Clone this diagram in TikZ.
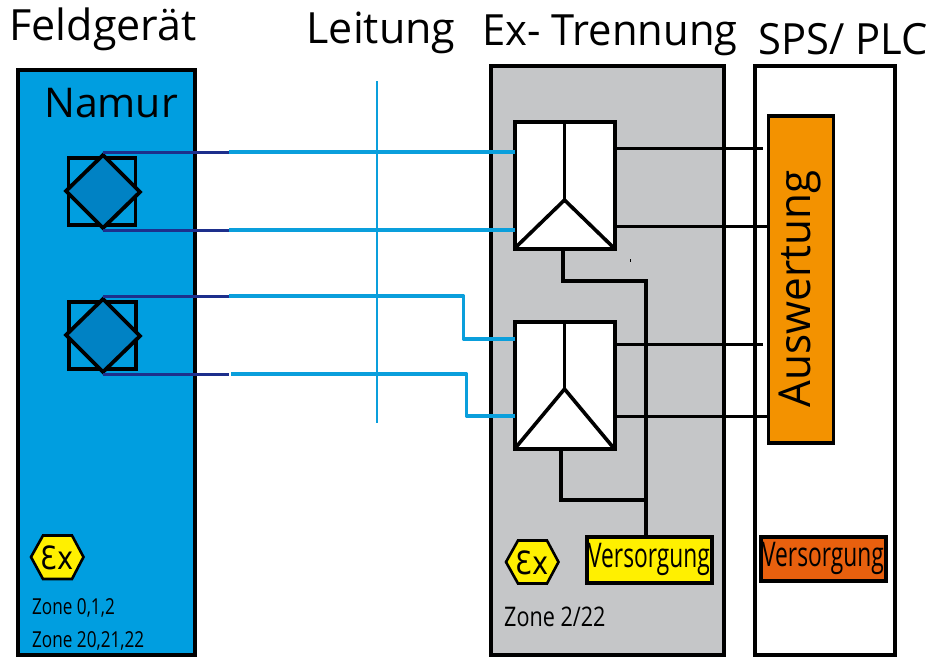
\documentclass[tikz,border=0pt]{standalone}
\usepackage{fontspec}
\setmainfont{Open Sans}
\newfontfamily\exfont{DejaVu Sans}
\usetikzlibrary{calc}
\definecolor{fieldblue}{HTML}{009EE0}
\definecolor{sensorblue}{HTML}{0082C4}
\definecolor{wireblue}{HTML}{0A9FDC}
\definecolor{darkwire}{HTML}{1D2F8C}
\definecolor{zonegray}{HTML}{C5C6C8}
\definecolor{evalorange}{HTML}{F39200}
\definecolor{supplyorange}{HTML}{E8600E}
\definecolor{supplyyellow}{HTML}{FFF000}
\newcommand{\nar}[2]{\scalebox{#1}[1]{#2}}
\tikzset{
  panel/.style={draw=black,line width=4pt,anchor=north west,inner sep=0pt,outer sep=0pt},
  title/.style={font=\fontsize{43}{45}\selectfont,inner sep=0pt},
  small/.style={font=\fontsize{22}{24}\selectfont,inner sep=0pt,anchor=west,text=black},
  wirein/.style={wireblue,line width=3.8pt},
  wiredark/.style={darkwire,line width=3pt},
  wireblack/.style={black,line width=3.6pt},
  blk/.style={draw=black,line width=4pt,fill=white,minimum width=100pt,minimum height=127pt,inner sep=0pt,outer sep=0pt},
  sens/.style={draw=black,line width=3.4pt,fill=fieldblue,minimum width=67pt,minimum height=67pt,inner sep=0pt,outer sep=0pt},
  dia/.style={black,line width=3.8pt,fill=sensorblue,line join=miter},
  supply/.style={draw=black,line width=4pt,inner sep=0pt,outer sep=0pt,font=\fontsize{34}{36}\selectfont},
  hexa/.style={draw=black,line width=2.6pt,fill=supplyyellow,line join=miter}
}
\begin{document}
\begin{tikzpicture}[x=1pt,y=-1pt]
\useasboundingbox (0,0) rectangle (932,657);
\fill[white] (0,0) rectangle (932,657);

% panels
\node[panel,fill=fieldblue,minimum width=177pt,minimum height=585pt] (feld) at (18,70) {};
\node[panel,fill=zonegray,minimum width=233pt,minimum height=589pt] (trenn) at (490.5,66) {};
\node[panel,fill=white,minimum width=140pt,minimum height=589pt] (sps) at (754.5,66) {};

% titles
\node[title] (t1) at (103,29) {\nar{1.0}{Feldgerät}};
\node[title] (t2) at (381,33) {\nar{1.0}{Leitung}};
\node[title] (t3) at (610,35) {\nar{0.97}{Ex- Trennung}};
\node[title] (t4) at (843,39) {\nar{0.97}{SPS/ PLC}};
\node[title,font=\fontsize{41}{42}\selectfont] (namur) at (111,103) {Namur};

% sensors
\node[sens] (s1) at (102,191.5) {};
\node[sens] (s2) at (102.5,335.5) {};
\coordinate (d1t) at (103,155); \coordinate (d1r) at (140,192);
\coordinate (d1b) at (103,228); \coordinate (d1l) at (66,191);
\coordinate (d2t) at (103,299); \coordinate (d2r) at (140,336);
\coordinate (d2b) at (103,372); \coordinate (d2l) at (66,335);
\draw[dia] (d1t)--(d1r)--(d1b)--(d1l)--cycle;
\draw[dia] (d2t)--(d2r)--(d2b)--(d2l)--cycle;

% isolators
\node[blk] (b1) at (564.5,185) {};
\node[blk] (b2) at (564.5,385.5) {};
\draw[black,line width=3.6pt] (b1.north) -- (564.5,200) coordinate (y1);
\draw[black,line width=3.6pt] (b1.south west) -- (y1) -- (b1.south east);
\draw[black,line width=3.6pt] (b2.north) -- (564.5,389) coordinate (y2);
\draw[black,line width=3.6pt] (b2.south west) -- (y2) -- (b2.south east);

% field wires
\coordinate (w1) at (229,152); \coordinate (w2) at (229,230);
\coordinate (w3) at (229,296); \coordinate (w4) at (229,374);
\coordinate (w4b) at (231,374);
\draw[wirein] (w1) -- (b1.west |- w1);
\draw[wirein] (w2) -- (b1.west |- w2);
\draw[wirein,line join=round] (w3) -- (463.5,296) -- (463.5,339) -- (b2.west |- 0,339);
\draw[wirein,line join=round] (w4b) -- (466.5,374) -- (466.5,416) -- (b2.west |- 0,416);
\draw[wiredark] (d1t |- w1) -- (w1);
\draw[wiredark] (d1b |- w2) -- (w2);
\draw[wiredark] (d2t |- w3) -- (w3);
\draw[wiredark] (d2b |- w4) -- (w4);

% cable cut line
\coordinate (cutt) at (377,81); \coordinate (cutb) at (377,423);
\draw[wireblue,line width=1.5pt] (cutt) -- (cutb);

% evaluation block
\node[draw=black,line width=3.4pt,fill=evalorange,anchor=north west,minimum width=65pt,minimum height=327pt,inner sep=0pt,outer sep=0pt] (ausw) at (768.5,116) {};
\node[font=\fontsize{44}{46}\selectfont,inner sep=0pt,rotate=90] (auswt) at (800,289) {\nar{0.96}{Auswertung}};

% output wires
\coordinate (o1) at (763,148.5); \coordinate (o2) at (769,226.5);
\coordinate (o3) at (763,344.5); \coordinate (o4) at (769,416.5);
\draw[wireblack] (b1.east |- o1) -- (o1);
\draw[wireblack] (b1.east |- o2) -- (o2);
\draw[wireblack] (b2.east |- o3) -- (o3);
\draw[wireblack] (b2.east |- o4) -- (o4);

% supplies
\node[supply,fill=supplyyellow,minimum width=125pt,minimum height=46pt] (v1) at (649,559.5) {\nar{0.67}{Versorgung}};
\node[supply,fill=supplyorange,minimum width=125pt,minimum height=44pt] (v2) at (823,558.5) {\nar{0.67}{Versorgung}};
\draw[wireblack,line join=miter] (b1.south -| 563,0) -- (563,281) -- (646,281) -- (v1.north -| 646,0);
\draw[wireblack,line join=miter] (b2.south -| 561,0) -- (561,500) -- (646,500);
\node[fill=black,minimum width=1pt,minimum height=3pt,inner sep=0pt] (speck) at (630,260) {};

% Ex hexagons
\draw[hexa] (31,557)--(43,535.5)--(72,535.5)--(83.5,557)--(72,579)--(43,579)--cycle;
\node[inner sep=0pt,font=\exfont\fontsize{32}{34}\selectfont] (ex1) at (57,558) {\nar{0.85}{Ɛx}};
\draw[hexa] (506,562)--(518,540.5)--(547,540.5)--(558.5,562)--(547,583.5)--(518,583.5)--cycle;
\node[inner sep=0pt,font=\exfont\fontsize{32}{34}\selectfont] (ex2) at (532,563) {\nar{0.85}{Ɛx}};

% zone labels
\node[small] (z1) at (32,608) {\nar{0.78}{Zone 0,1,2}};
\node[small] (z2) at (32,641) {\nar{0.78}{Zone 20,21,22}};
\node[small,font=\fontsize{27}{29}\selectfont] (z3) at (504,617) {\nar{0.8}{Zone 2/22}};
\end{tikzpicture}
\end{document}
